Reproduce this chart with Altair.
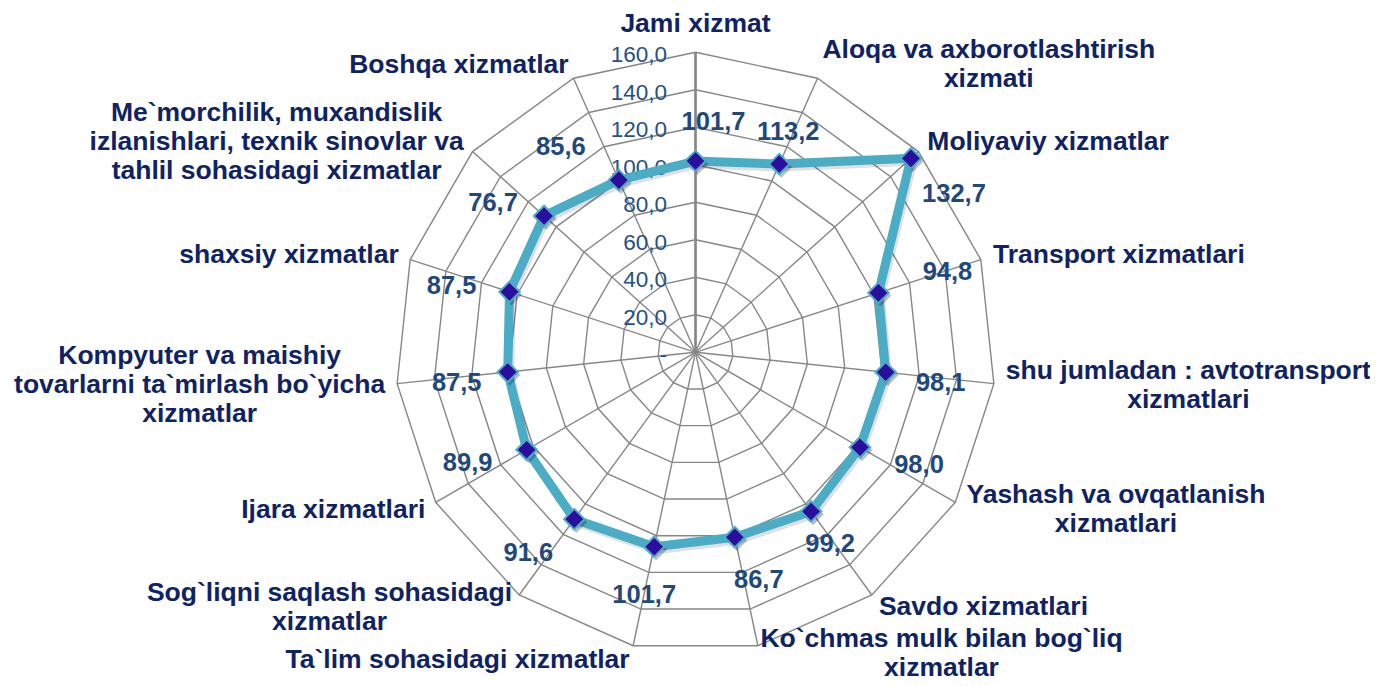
import math
import altair as alt
import pandas as pd

# ---------------- data ----------------
categories = [
    "Jami xizmat",
    "Aloqa va axborotlashtirish\nxizmati",
    "Moliyaviy xizmatlar",
    "Transport xizmatlari",
    "shu jumladan : avtotransport\nxizmatlari",
    "Yashash va ovqatlanish\nxizmatlari",
    "Savdo xizmatlari",
    "Ko`chmas mulk bilan bog`liq\nxizmatlar",
    "Ta`lim sohasidagi xizmatlar",
    "Sog`liqni saqlash sohasidagi\nxizmatlar",
    "Ijara xizmatlari",
    "Kompyuter va maishiy\ntovarlarni ta`mirlash bo`yicha\nxizmatlar",
    "shaxsiy xizmatlar",
    "Me`morchilik, muxandislik\nizlanishlari, texnik sinovlar va\ntahlil sohasidagi xizmatlar",
    "Boshqa xizmatlar",
]
# plotted values (as drawn)
values = [102.0, 109.9, 154.6, 102.6, 102.0, 101.3, 104.9, 100.8,
          106.0, 110.0, 104.0, 100.7, 104.3, 108.7, 100.5]
# data labels as printed
value_labels = ["101,7", "113,2", "132,7", "94,8", "98,1", "98,0", "99,2", "86,7",
                "101,7", "91,6", "89,9", "87,5", "87,5", "76,7", "85,6"]
tick_values = [0, 20, 40, 60, 80, 100, 120, 140, 160]
tick_labels = ["-", "20,0", "40,0", "60,0", "80,0", "100,0", "120,0", "140,0", "160,0"]

# ---------------- layout / style ----------------
N = len(categories)
RMAX = 160
PX = 300 / RMAX            # pixels per data unit
W, H = 1362, 670
CX, CY = 687.5, 344.3      # centre in plot pixels
xdom = [-CX / PX, (W - CX) / PX]
ydom = [-(H - CY) / PX, CY / PX]
FONT = "Liberation Sans"
FS_CAT = 26.5
FS_NUM = 25.5
FS_TICK = 22.5
LH = 29
CAT_COLOR = "#0f2364"
NUM_COLOR = "#1f497d"
TICK_COLOR = "#24508a"
GRID = "#878787"
LINE = "#4bacc6"
MARK = "#2c0e9e"
# data-label nudges relative to each marker (pixels, +x right, +y down)
label_offsets_px = [(18, -39), (9, -32), (43, 36), (69, -21), (55, 11), (59, 18), (19, 33),
                    (24, 43), (-10, 48), (-46, 34), (-59, 13), (-51, 11), (-58, -6),
                    (-51, -13), (-58, -33)]

# Arial/Helvetica Bold advance widths (per 1000 em) for centring multi-line labels
_w = dict(zip("abcdefghijklmnopqrstuvwxyz",
              [556, 611, 556, 611, 556, 333, 611, 611, 278, 278, 556, 278, 889,
               611, 611, 611, 611, 389, 556, 333, 611, 556, 778, 556, 556, 500]))
_w.update(dict(zip("ABCDEFGHIJKLMNOPQRSTUVWXYZ",
                   [722, 722, 722, 722, 667, 611, 778, 722, 278, 556, 722, 611, 833,
                    722, 778, 667, 778, 722, 667, 611, 722, 667, 944, 667, 667, 611])))
_w.update({" ": 278, ",": 278, ":": 333, "`": 333, ".": 278})


def text_width(s, size):
    return max(sum(_w.get(ch, 556) for ch in line) for line in s.split("\n")) * size / 1000


TH = f"datum.idx * 2 * PI / {N}"


def X(f):
    return alt.X(f, type="quantitative", scale=alt.Scale(domain=xdom, nice=False, zero=False), axis=None)


def Y(f):
    return alt.Y(f, type="quantitative", scale=alt.Scale(domain=ydom, nice=False, zero=False), axis=None)


cat_df = pd.DataFrame({
    "idx": list(range(N)),
    "category": categories,
    "value": values,
    "vlabel": value_labels,
    "hw": [text_width(c, FS_CAT) / 2 / PX for c in categories],
    "nl": [c.count("\n") + 1 for c in categories],
    "ndx": [o[0] / PX for o in label_offsets_px],
    "ndy": [-o[1] / PX for o in label_offsets_px],
})
line_df = pd.DataFrame({
    "order": list(range(N + 1)),
    "idx": list(range(N)) + [0],
    "value": values + [values[0]],
})
grid_df = pd.DataFrame([{"ring": t, "idx": k} for t in tick_values[1:] for k in range(N + 1)])
spoke_df = pd.DataFrame({"idx": list(range(N))})
tick_df = pd.DataFrame({"v": tick_values, "t": tick_labels})

# ---------------- layers ----------------
rings = alt.Chart(grid_df).transform_calculate(
    th=TH, x="datum.ring * sin(datum.th)", y="datum.ring * cos(datum.th)"
).mark_line(color=GRID, strokeWidth=1.4).encode(
    x=X("x"), y=Y("y"), detail="ring:N", order="idx:Q"
)

spokes_base = alt.Chart(spoke_df).transform_calculate(
    th=TH, x0="0", y0="0",
    ex=f"{RMAX} * sin(datum.th)", ey=f"{RMAX} * cos(datum.th)"
)
spokes = spokes_base.mark_rule(color=GRID, strokeWidth=1.4).encode(
    x=X("x0"), y=Y("y0"), x2="ex:Q", y2="ey:Q"
)
axis_line = spokes_base.transform_filter("datum.idx == 0").mark_rule(
    color=GRID, strokeWidth=2.6
).encode(x=X("x0"), y=Y("y0"), x2="ex:Q", y2="ey:Q")

ticks = alt.Chart(tick_df).transform_calculate(
    tx=f"{-28.5 / PX}", ty=f"datum.v - {3 / PX}"
).mark_text(align="right", baseline="middle", font=FONT, fontSize=FS_TICK, color=TICK_COLOR).encode(
    x=X("tx"), y=Y("ty"), text="t:N"
)

line_base = alt.Chart(line_df).transform_calculate(
    th=TH, x="datum.value * sin(datum.th)", y="datum.value * cos(datum.th)",
    sx=f"datum.value * sin(datum.th) + {2 / PX}", sy=f"datum.value * cos(datum.th) - {3 / PX}"
)
line_shadow = line_base.mark_line(color="#000000", opacity=0.12, strokeWidth=9, strokeJoin="round").encode(
    x=X("sx"), y=Y("sy"), order="order:Q"
)
series_line = line_base.mark_line(color=LINE, strokeWidth=9, strokeJoin="round").encode(
    x=X("x"), y=Y("y"), order="order:Q"
)

pts_base = alt.Chart(cat_df).transform_calculate(
    th=TH, x="datum.value * sin(datum.th)", y="datum.value * cos(datum.th)",
    sx=f"datum.value * sin(datum.th) + {2 / PX}", sy=f"datum.value * cos(datum.th) - {3 / PX}"
)
pts_shadow = pts_base.mark_point(shape="diamond", filled=True, size=460, color="#000000", opacity=0.25).encode(
    x=X("sx"), y=Y("sy")
)
pts = pts_base.mark_point(shape="diamond", filled=True, size=420, fill=MARK, stroke=LINE,
                          strokeWidth=2, opacity=1).encode(x=X("x"), y=Y("y"))

num_labels = alt.Chart(cat_df).transform_calculate(
    th=TH,
    lx="datum.value * sin(datum.th) + datum.ndx",
    ly="datum.value * cos(datum.th) + datum.ndy"
).mark_text(align="center", baseline="middle", font=FONT, fontSize=FS_NUM, fontWeight="bold",
            color=NUM_COLOR).encode(x=X("lx"), y=Y("ly"), text="vlabel:N")

cat_labels = alt.Chart(cat_df).transform_calculate(
    th=TH, s="sin(datum.th)", c="cos(datum.th)",
    cx=f"{RMAX + 12 / PX} * datum.s + (abs(datum.s) < 0.01 ? 0 : (datum.s > 0 ? 1 : -1) * datum.hw)",
    cy=(f"{RMAX + 15 / PX} * datum.c + (datum.nl - 1) / 2 * {LH / PX}"
        f" + (abs(datum.s) < 0.01 ? {13 / PX} : 0)"
        f" + (datum.c < -0.9 && datum.nl > 1 ? {7 / PX} : 0)")
).mark_text(align="center", baseline="middle", font=FONT, fontSize=FS_CAT, fontWeight="bold",
            color=CAT_COLOR, lineBreak="\n", lineHeight=LH).encode(
    x=X("cx"), y=Y("cy"), text="category:N"
)

chart = alt.layer(
    rings, spokes, axis_line, ticks, line_shadow, series_line, pts_shadow, pts, num_labels, cat_labels
).properties(
    width=W, height=H, padding=0, autosize=alt.AutoSizeParams(type="none"), background="white"
).configure_view(stroke=None)

chart.save("out.html", embed_options={"renderer": "svg", "actions": False})
